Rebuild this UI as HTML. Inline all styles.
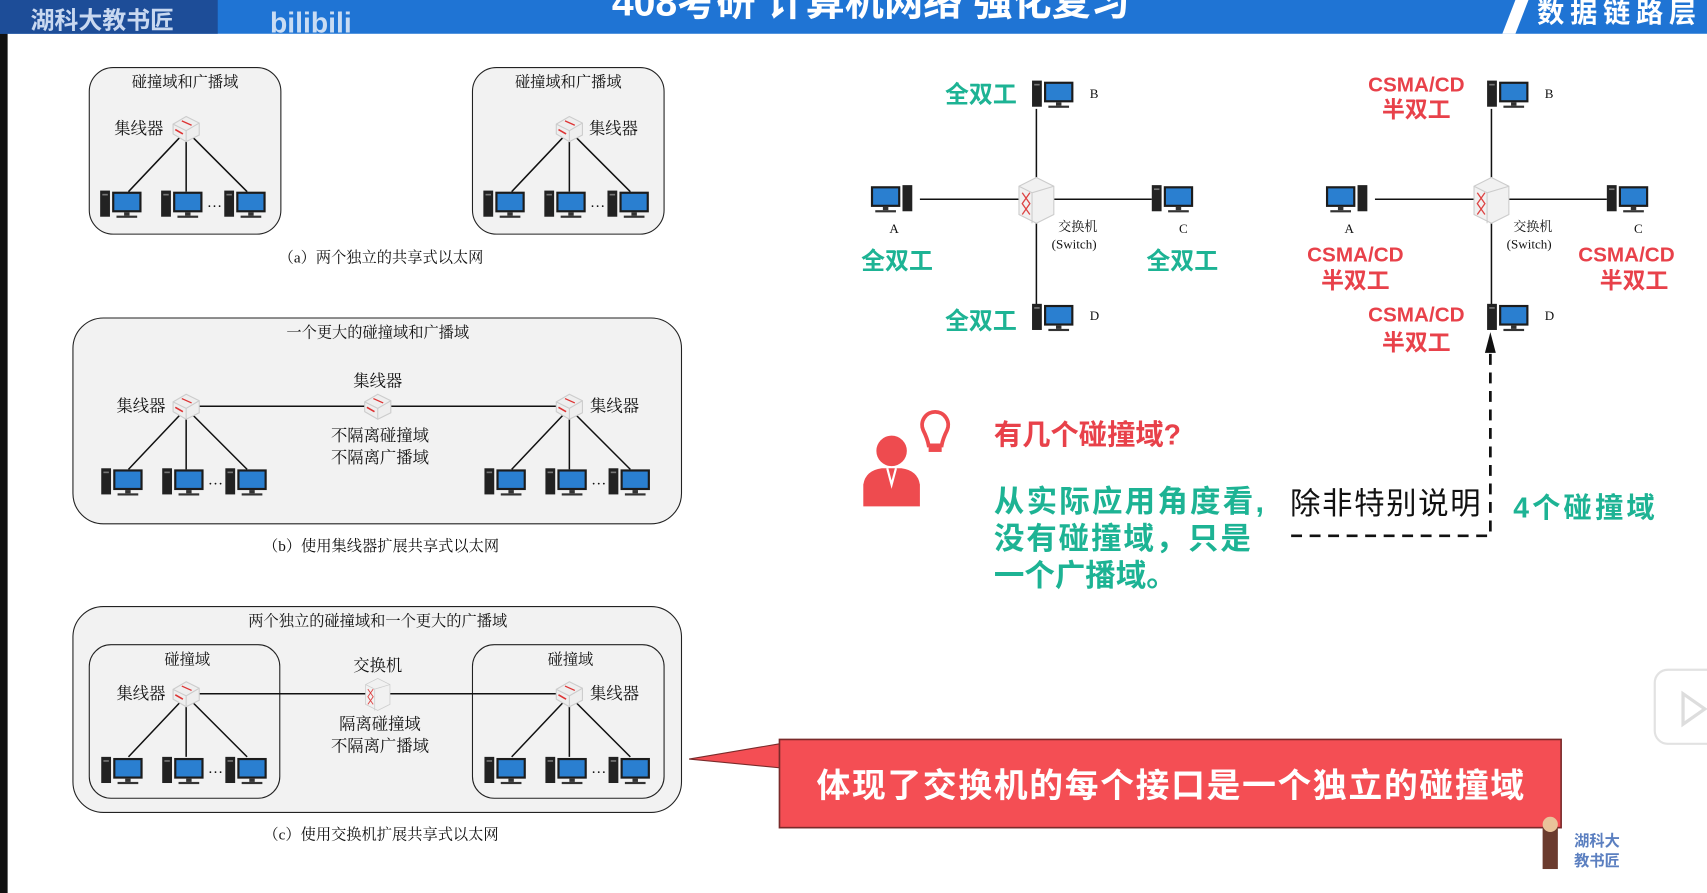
<!DOCTYPE html>
<html><head><meta charset="utf-8"><style>
html,body{margin:0;padding:0;background:#fff;overflow:hidden}
svg{display:block}
.s{font-family:"Liberation Serif","Noto Serif CJK SC",serif;fill:#111}
.b{font-family:"Liberation Sans","Noto Sans CJK SC",sans-serif;font-weight:bold}
.g{fill:#1db394}.r{fill:#e8414a}
</style></head><body>
<svg width="1707" height="893" viewBox="0 0 1568 820" preserveAspectRatio="none" xmlns="http://www.w3.org/2000/svg">
<defs>
<g id="pc">
<rect x="0" y="0" width="9" height="24" fill="#222"/>
<rect x="2" y="3" width="5" height="1.5" fill="#777"/>
<rect x="11" y="1" width="27" height="19" fill="#1c1c1c"/>
<rect x="13" y="3" width="23" height="15" fill="#2a7fd0"/>
<rect x="22" y="20" width="5" height="3" fill="#333"/>
<rect x="15" y="23" width="19" height="2" fill="#333"/>
</g>
<g id="pcr">
<rect x="29" y="0" width="9" height="24" fill="#222"/>
<rect x="0" y="1" width="27" height="19" fill="#1c1c1c"/>
<rect x="2" y="3" width="23" height="15" fill="#2a7fd0"/>
<rect x="11" y="20" width="5" height="3" fill="#333"/>
<rect x="4" y="23" width="19" height="2" fill="#333"/>
</g>
<g id="hub">
<path d="M-12,-4 L0,-11 L12,-5 L12,6 L0,12 L-12,5 Z" fill="#eee" stroke="#ccc"/>
<path d="M-12,-4 L0,2 L12,-5 M0,2 L0,12" stroke="#ccc" fill="none"/>
<path d="M-4,-7 L5,-3" stroke="#d33" stroke-width="1.2"/>
<path d="M-10,1 L-3,5" stroke="#d33" stroke-width="1.5"/>
</g>
<g id="sw">
<path d="M-16,-12 L0,-20 L16,-12 L16,14 L0,22 L-16,14 Z" fill="#f1f1f1" stroke="#ccc"/>
<path d="M-16,-12 L-4,-6 L16,-12 M-4,-6 L-4,22" stroke="#ccc" fill="none"/>
<path d="M-13,-6 L-6,4 L-13,14 M-6,-6 L-13,4 L-6,14" stroke="#d44" fill="none" stroke-width="1.2"/>
</g>
</defs>
<rect width="1568" height="820" fill="#fff"/>
<rect x="0" y="0" width="7" height="820" fill="#111"/>
<rect x="0" y="0" width="1568" height="31" fill="#1f74d4"/>
<rect x="0" y="0" width="200" height="31" fill="#1d4d98"/>
<polygon points="1380,31 1392,0 1404,0 1392,31" fill="#fff"/>
<text x="28" y="26" font-size="22" class="b" fill="#c8d8f0">湖科大教书匠</text>
<text x="248" y="30" font-size="26" class="b" fill="#c9dcf3">bilibili</text>
<text x="800" y="14" text-anchor="middle" font-size="36" class="b" fill="#fff">408考研  计算机网络  强化复习</text>
<text x="1412" y="20" font-size="25" class="b" fill="#fff" textLength="146">数据链路层</text>
<g stroke="#222" fill="#f2f2f2">
<rect x="82" y="62" width="176" height="153" rx="22"/>
<rect x="434" y="62" width="176" height="153" rx="22"/>
<rect x="67" y="292" width="559" height="189" rx="28"/>
<rect x="67" y="557" width="559" height="189" rx="28"/>
<rect x="82" y="592" width="175" height="141" rx="20"/>
<rect x="434" y="592" width="176" height="141" rx="20"/>
</g>
<g stroke="#111" stroke-width="1.4">
<path d="M171,120 L118,176 M171,120 L171,176 M171,120 L227,176"/>
<path d="M523,120 L470,176 M523,120 L523,176 M523,120 L579,176"/>
<path d="M171,373 L523,373"/>
<path d="M171,375 L118,431 M171,375 L171,431 M171,375 L227,431"/>
<path d="M523,375 L470,431 M523,375 L523,431 M523,375 L579,431"/>
<path d="M171,637 L523,637"/>
<path d="M171,639 L118,695 M171,639 L171,695 M171,639 L227,695"/>
<path d="M523,639 L470,695 M523,639 L523,695 M523,639 L579,695"/>
</g>
<use href="#hub" x="171" y="118"/><use href="#hub" x="523" y="118"/>
<use href="#hub" x="171" y="373"/><use href="#hub" x="347" y="373"/><use href="#hub" x="523" y="373"/>
<use href="#hub" x="171" y="637"/><use href="#hub" x="523" y="637"/>
<use href="#sw" x="347" y="637" transform="translate(347 637) scale(0.7) translate(-347 -637)"/>
<g>
<use href="#pc" x="92" y="175"/><use href="#pc" x="148" y="175"/><use href="#pc" x="206" y="175"/>
<use href="#pc" x="444" y="175"/><use href="#pc" x="500" y="175"/><use href="#pc" x="558" y="175"/>
<use href="#pc" x="93" y="430"/><use href="#pc" x="149" y="430"/><use href="#pc" x="207" y="430"/>
<use href="#pc" x="445" y="430"/><use href="#pc" x="501" y="430"/><use href="#pc" x="559" y="430"/>
<use href="#pc" x="93" y="695"/><use href="#pc" x="149" y="695"/><use href="#pc" x="207" y="695"/>
<use href="#pc" x="445" y="695"/><use href="#pc" x="501" y="695"/><use href="#pc" x="559" y="695"/>
</g>
<g class="s" font-size="14">
<text x="190" y="190">…</text><text x="542" y="190">…</text>
<text x="191" y="445">…</text><text x="543" y="445">…</text>
<text x="191" y="710">…</text><text x="543" y="710">…</text>
<text x="170" y="80" text-anchor="middle">碰撞域和广播域</text>
<text x="522" y="80" text-anchor="middle">碰撞域和广播域</text>
<text x="105" y="123" font-size="15">集线器</text>
<text x="541" y="123" font-size="15">集线器</text>
<text x="350" y="241" text-anchor="middle">（a）两个独立的共享式以太网</text>
<text x="347" y="310" text-anchor="middle">一个更大的碰撞域和广播域</text>
<text x="347" y="355" text-anchor="middle" font-size="15">集线器</text>
<text x="107" y="378" font-size="15">集线器</text>
<text x="542" y="378" font-size="15">集线器</text>
<text x="349" y="405" text-anchor="middle" font-size="15">不隔离碰撞域</text>
<text x="349" y="425" text-anchor="middle" font-size="15">不隔离广播域</text>
<text x="350" y="506" text-anchor="middle">（b）使用集线器扩展共享式以太网</text>
<text x="347" y="575" text-anchor="middle">两个独立的碰撞域和一个更大的广播域</text>
<text x="172" y="610" text-anchor="middle">碰撞域</text>
<text x="524" y="610" text-anchor="middle">碰撞域</text>
<text x="347" y="616" text-anchor="middle" font-size="15">交换机</text>
<text x="107" y="642" font-size="15">集线器</text>
<text x="542" y="642" font-size="15">集线器</text>
<text x="349" y="670" text-anchor="middle" font-size="15">隔离碰撞域</text>
<text x="349" y="690" text-anchor="middle" font-size="15">不隔离广播域</text>
<text x="350" y="771" text-anchor="middle">（c）使用交换机扩展共享式以太网</text>
</g>
<g stroke="#111" stroke-width="1.4">
<path d="M952,100 L952,280 M845,183 L1058,183"/>
<path d="M1370,100 L1370,280 M1263,183 L1476,183"/>
</g>
<use href="#sw" x="952" y="183"/><use href="#sw" x="1370" y="183"/>
<use href="#pc" x="948" y="74"/><use href="#pcr" x="800" y="170"/><use href="#pc" x="1058" y="170"/><use href="#pc" x="948" y="279"/>
<use href="#pc" x="1366" y="74"/><use href="#pcr" x="1218" y="170"/><use href="#pc" x="1476" y="170"/><use href="#pc" x="1366" y="279"/>
<g class="s" font-size="12">
<text x="1001" y="90">B</text><text x="817" y="214">A</text><text x="1083" y="214">C</text><text x="1001" y="294">D</text>
<text x="972" y="212">交换机</text><text x="966" y="228">(Switch)</text>
<text x="1419" y="90">B</text><text x="1235" y="214">A</text><text x="1501" y="214">C</text><text x="1419" y="294">D</text>
<text x="1390" y="212">交换机</text><text x="1384" y="228">(Switch)</text>
</g>
<g class="b g" font-size="22">
<text x="868" y="94">全双工</text><text x="791" y="247">全双工</text><text x="1053" y="247">全双工</text><text x="868" y="302">全双工</text>
</g>
<g class="b r" font-size="19" text-anchor="middle">
<text x="1301" y="84">CSMA/CD</text><text x="1301" y="108" font-size="21">半双工</text>
<text x="1245" y="240">CSMA/CD</text><text x="1245" y="265" font-size="21">半双工</text>
<text x="1494" y="240">CSMA/CD</text><text x="1501" y="265" font-size="21">半双工</text>
<text x="1301" y="295">CSMA/CD</text><text x="1301" y="322" font-size="21">半双工</text>
</g>
<path d="M1369,325 L1369,492 L1180,492" stroke="#111" stroke-width="2.5" fill="none" stroke-dasharray="10,7"/>
<polygon points="1369,305 1364,324 1374,324" fill="#111"/>
<g fill="#ee4b4f">
<circle cx="819" cy="414" r="14"/>
<path d="M793,465 L793,445 Q795,432 810,430 L828,430 Q843,432 845,445 L845,465 Z"/>
<path d="M848,395 a12,12 0 1 1 22,0 q-4,8 -5,14 l-12,0 q-1,-6 -5,-14z" fill="none" stroke="#ee4b4f" stroke-width="3.5"/>
<rect x="853" y="410" width="12" height="5"/>
</g>
<path d="M815,430 L819,445 L823,430" stroke="#fff" stroke-width="2" fill="none"/>
<text x="913" y="408" font-size="26" class="b r">有几个碰撞域?</text>
<g class="b g" font-size="28">
<text x="913" y="470" textLength="248">从实际应用角度看,</text>
<text x="913" y="504" textLength="236">没有碰撞域，只是</text>
<text x="913" y="538">一个广播域。</text>
</g>
<text x="1185" y="472" font-size="28" font-family="Liberation Sans,Noto Sans CJK SC,sans-serif" fill="#111" textLength="175">除非特别说明</text>
<text x="1390" y="475" font-size="26" class="b g" textLength="130">4个碰撞域</text>
<polygon points="716,683 633,697 716,705" fill="#f44e54" stroke="#7a2a2a"/>
<rect x="716" y="679" width="718" height="81" fill="#f44e54" stroke="#7a2a2a" stroke-width="1.5"/>
<text x="750" y="732" font-size="31" class="b" fill="#fff" textLength="650">体现了交换机的每个接口是一个独立的碰撞域</text>
<rect x="1417" y="760" width="14" height="38" fill="#6b3b2e"/>
<circle cx="1424" cy="757" r="7" fill="#e9c39a"/>
<text x="1446" y="777" font-size="14" class="b" fill="#5b7fc0">湖科大</text>
<text x="1446" y="795" font-size="14" class="b" fill="#5b7fc0">教书匠</text>
<rect x="1520" y="615" width="60" height="68" rx="12" fill="#fff" stroke="#e2e2e2" stroke-width="2"/>
<polygon points="1546,637 1546,665 1566,651" fill="none" stroke="#ddd" stroke-width="3"/>
</svg>
</body></html>
